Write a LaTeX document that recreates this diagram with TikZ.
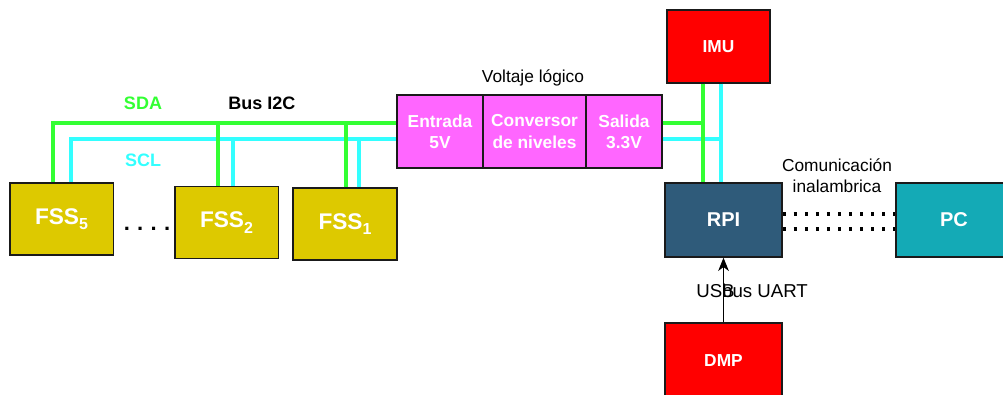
\documentclass[tikz,border=0pt]{standalone}
\usepackage{fontspec}
\setmainfont{Liberation Sans}
\usetikzlibrary{arrows.meta,positioning,calc}
\definecolor{fssfill}{HTML}{DDC900}
\definecolor{convfill}{HTML}{FF66FF}
\definecolor{rpifill}{HTML}{2F5B7A}
\definecolor{pcfill}{HTML}{14AAB6}
\definecolor{sdacol}{HTML}{33FF33}
\definecolor{sclcol}{HTML}{33FFFF}
\definecolor{framecol}{HTML}{1A1A1A}

\newcommand{\fss}[1]{FSS\raisebox{-0.45ex}{\fontsize{12}{12}\selectfont #1}}

\begin{document}
\begin{tikzpicture}[x=0.75pt, y=-0.75pt,
  box/.style={draw=framecol, line width=1pt, text=white, inner sep=0pt,
    font=\fontsize{13}{16}\selectfont\bfseries, align=center},
  fssbox/.style={box, fill=fssfill, minimum width=77.5pt, minimum height=54pt,
    font=\fontsize{17}{20}\selectfont\bfseries},
  convbox/.style={box, fill=convfill, minimum height=54.75pt},
  sda/.style={sdacol, line width=3.5pt},
  scl/.style={sclcol, line width=3.5pt},
  wifi/.style={line width=2.3pt, dash pattern=on 2.3pt off 6pt},
  lbl/.style={font=\fontsize{13}{16}\selectfont, align=center}]
  \useasboundingbox (0,0) rectangle (1003,394);

  % Sensores
  \node[fssbox] (fss5) at (61.5,219) {\fss{5}};
  \node[fssbox] (fss2) at (226.5,222.5) {\fss{2}};
  \node[fssbox, minimum width=78pt] (fss1) at (345,224) {\fss{1}};
  \node[font=\fontsize{16.5}{20}\selectfont\bfseries, anchor=base, inner sep=0pt] (dots) at (147,230) {.\,\,.\,\,.\,\,.};

  % Conversor de niveles
  \node[convbox, minimum width=64.5pt] (ent) at (440,131.5) {Entrada\\5V};
  \node[convbox, minimum width=77.25pt] (conv) at (534.5,131.5) {Conversor\\de niveles};
  \node[convbox, minimum width=57pt] (sal) at (624,131.5) {Salida\\3.3V};
  \node[lbl] (volt) at (533,78) {Voltaje lógico};

  % Bloques de la derecha
  \node[box, fill=red, minimum width=77.25pt, minimum height=54.75pt] (imu) at (718.5,46.5) {IMU};
  \node[box, fill=rpifill, minimum width=87.75pt, minimum height=55.5pt,
    font=\fontsize{15}{18}\selectfont\bfseries] (rpi) at (723.5,220) {RPI};
  \node[box, fill=pcfill, minimum width=87pt, minimum height=55.5pt,
    font=\fontsize{15}{18}\selectfont\bfseries] (pc) at (954,220) {PC};
  \node[box, fill=red, minimum width=87.75pt, minimum height=56.25pt] (dmp) at (723.5,360.5) {DMP};

  % Bus I2C: SCL primero, SDA encima
  \draw[scl] (fss5.north -| 71,0) |- (ent.west |- 0,139);
  \draw[scl] (fss2.north -| 233,0) -- (233,139);
  \draw[scl] (fss1.north -| 359,0) -- (359,139);
  \draw[scl] (sal.east |- 0,139) -- (721,139);
  \draw[scl] (imu.south -| 721,0) -- (rpi.north -| 721,0);
  \draw[sda] (fss5.north -| 53,0) |- (ent.west |- 0,123);
  \draw[sda] (fss2.north -| 218,0) -- (218,123);
  \draw[sda] (fss1.north -| 346,0) -- (346,123);
  \draw[sda] (sal.east |- 0,123) -- (703,123);
  \draw[sda] (imu.south -| 703,0) -- (rpi.north -| 703,0);

  \node[font=\fontsize{13.5}{16}\selectfont\bfseries, text=sdacol] (sdalbl) at (143,103) {SDA};
  \node[font=\fontsize{13.5}{16}\selectfont\bfseries] (buslbl) at (262,103) {Bus I2C};
  \node[font=\fontsize{13.5}{16}\selectfont\bfseries, text=sclcol] (scllbl) at (143,160) {SCL};

  % Comunicacion inalambrica
  \draw[wifi] (rpi.east |- 0,214) -- (pc.west |- 0,214);
  \draw[wifi] (rpi.east |- 0,229) -- (pc.west |- 0,229);
  \node[lbl] (com) at (837,176) {Comunicación\\inalambrica};

  % UART
  \draw[-{Stealth[length=10pt,width=8pt,inset=3pt]}, line width=0.8pt] (dmp.north) -- (rpi.south);
  \node[lbl, font=\fontsize{14}{16}\selectfont] (usb) at (715.5,291) {USB};
  \node[lbl, font=\fontsize{14}{16}\selectfont] (uart) at (765,291) {bus UART};
\end{tikzpicture}
\end{document}
